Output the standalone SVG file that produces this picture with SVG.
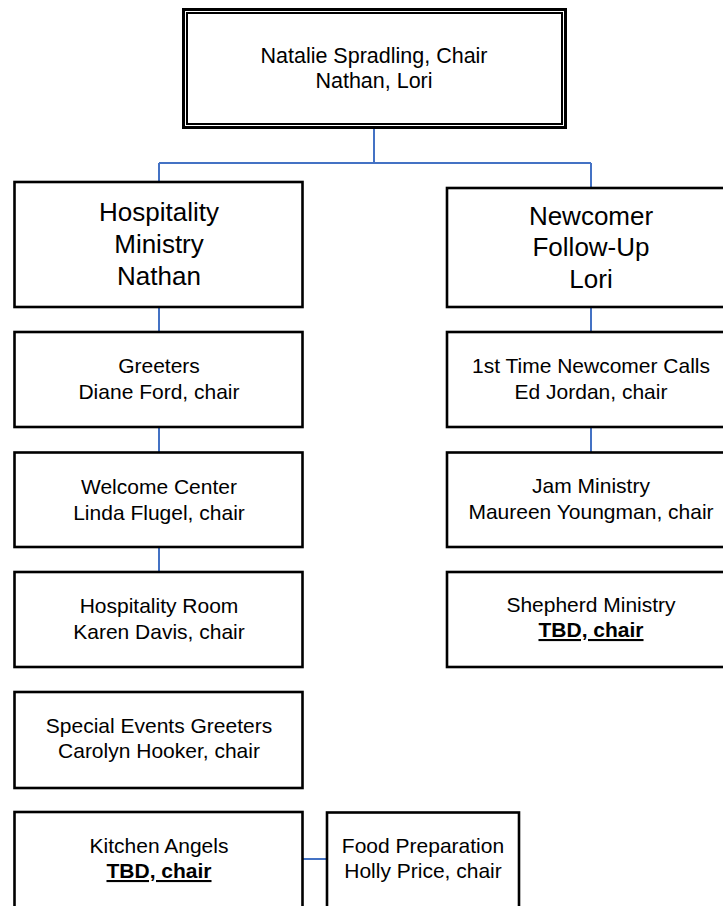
<svg xmlns="http://www.w3.org/2000/svg" width="723" height="906" viewBox="0 0 723 906">
<style>
.box{fill:#fff;stroke:#000;stroke-width:2.6}
.t{font-family:"Liberation Sans",Arial,sans-serif;font-size:21px;fill:#000;text-anchor:middle}
.big{font-size:26px}
.b{font-weight:bold;text-decoration:underline}
.c{stroke:#4472C4;stroke-width:2;fill:none}
</style>
<rect width="723" height="906" fill="#fff"/>
<g id="connectors">
<path class="c" d="M374 128V163M159 163H591M159 163V182M591 163V188"/>
<path class="c" d="M159 307V332M159 427V452M159 547V572"/>
<path class="c" d="M591 307V332M591 427V452"/>
<path class="c" d="M303 859H327"/>
</g>
<g id="chair">
<rect x="183.5" y="9.5" width="382" height="118" fill="#fff" stroke="#000" stroke-width="3"/>
<rect x="187" y="13" width="375" height="111" fill="none" stroke="#000" stroke-width="2"/>
<text class="t" x="374" y="63" style="font-size:21.5px">Natalie Spradling, Chair</text>
<text class="t" x="374" y="88" style="font-size:21.5px">Nathan, Lori</text>
</g>
<g id="hospitality">
<rect class="box" x="14.5" y="182" width="288" height="125"/>
<text class="t big" x="159" y="221">Hospitality</text>
<text class="t big" x="159" y="253">Ministry</text>
<text class="t big" x="159" y="285">Nathan</text>
</g>
<g id="newcomer">
<rect class="box" x="447" y="188" width="288" height="119"/>
<text class="t big" x="591" y="225">Newcomer</text>
<text class="t big" x="591" y="256">Follow-Up</text>
<text class="t big" x="591" y="288">Lori</text>
</g>
<g id="greeters">
<rect class="box" x="14.5" y="332" width="288" height="95"/>
<text class="t" x="159" y="373">Greeters</text>
<text class="t" x="159" y="399">Diane Ford, chair</text>
</g>
<g id="welcome">
<rect class="box" x="14.5" y="452.5" width="288" height="94.5"/>
<text class="t" x="159" y="494">Welcome Center</text>
<text class="t" x="159" y="520">Linda Flugel, chair</text>
</g>
<g id="hospitality-room">
<rect class="box" x="14.5" y="572" width="288" height="95"/>
<text class="t" x="159" y="613">Hospitality Room</text>
<text class="t" x="159" y="639">Karen Davis, chair</text>
</g>
<g id="special-events">
<rect class="box" x="14.5" y="692" width="288" height="96"/>
<text class="t" x="159" y="733">Special Events Greeters</text>
<text class="t" x="159" y="758">Carolyn Hooker, chair</text>
</g>
<g id="kitchen">
<rect class="box" x="14.5" y="812" width="288" height="110"/>
<text class="t" x="159" y="853">Kitchen Angels</text>
<text class="t b" x="159" y="878">TBD, chair</text>
</g>
<g id="food">
<rect class="box" x="327" y="812.5" width="192" height="110"/>
<text class="t" x="423" y="853">Food Preparation</text>
<text class="t" x="423" y="878">Holly Price, chair</text>
</g>
<g id="first-time">
<rect class="box" x="447" y="332" width="288" height="95"/>
<text class="t" x="591" y="373">1st Time Newcomer Calls</text>
<text class="t" x="591" y="399">Ed Jordan, chair</text>
</g>
<g id="jam">
<rect class="box" x="447" y="452.5" width="288" height="94.5"/>
<text class="t" x="591" y="493">Jam Ministry</text>
<text class="t" x="591" y="519">Maureen Youngman, chair</text>
</g>
<g id="shepherd">
<rect class="box" x="447" y="572" width="288" height="95"/>
<text class="t" x="591" y="612">Shepherd Ministry</text>
<text class="t b" x="591" y="637">TBD, chair</text>
</g>
</svg>
